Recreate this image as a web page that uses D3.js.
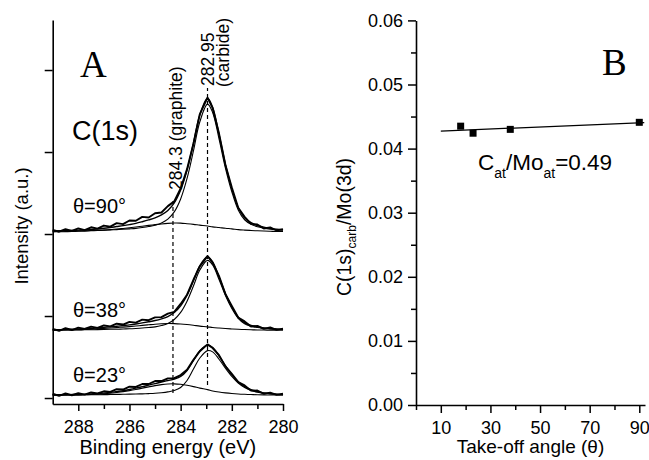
<!DOCTYPE html>
<html>
<head>
<meta charset="utf-8">
<script src="https://cdn.jsdelivr.net/npm/d3@7"></script>
<style>
  html, body { margin: 0; padding: 0; background: #fff; }
  svg { display: block; }
</style>
</head>
<body>
<svg id="chart" width="649" height="460"></svg>
<script>
// ---------- Panel A: C(1s) XPS spectra at three take-off angles ----------
// Binding-energy grid (eV) shared by measured data and fitted components
const energy = [289, 288.75, 288.5, 288.25, 288, 287.75, 287.5, 287.25, 287, 286.75,
  286.5, 286.25, 286, 285.75, 285.5, 285.25, 285, 284.75, 284.5, 284.25,
  284, 283.75, 283.5, 283.25, 282.95, 282.75, 282.5, 282.25, 282, 281.75,
  281.5, 281.25, 281, 280.75, 280.5, 280.25, 280];

const thetaLabels = ["θ=23°", "θ=38°", "θ=90°"];
// vertical stacking offset of each spectrum (a.u.)
const baselineOffset = [3.3, 82.3, 202.4];

// θ = 23°
const raw23 = [1.9, -0.6, 2.3, 0.1, 2.7, 0.9, 3.6, 2.2, 4.9, 4.2, 7.5, 7.0, 10.5, 10.2, 13.8, 13.8, 17.4, 17.4, 20.7, 20.9,
  24.7, 31.2, 43.2, 53.8, 62.1, 57.7, 48.9, 35.3, 26.2, 16.0, 12.0, 5.7, 5.8, 1.9, 3.3, 0.5, 2.0];
const fit23 = [0.6, 0.6, 0.7, 0.9, 1.0, 1.3, 1.7, 2.1, 2.7, 3.5, 4.6, 5.7, 7.1, 8.7, 10.5, 12.4, 14.3, 16.2, 18.0, 19.8,
  22.9, 30.2, 42.6, 54.3, 61.4, 58.3, 48.0, 36.0, 25.2, 16.6, 10.7, 6.9, 4.5, 3.0, 2.1, 1.5, 1.1];
const carbide23 = [0.4, 0.4, 0.4, 0.5, 0.5, 0.6, 0.7, 0.7, 0.8, 0.9, 1.1, 1.2, 1.4, 1.6, 1.8, 2.1, 2.5, 3.2, 4.2, 5.8,
  9.5, 18.0, 32.0, 45.5, 54.5, 53.0, 44.0, 33.0, 23.0, 15.0, 9.5, 6.0, 3.8, 2.5, 1.7, 1.2, 0.9];
const graphite23 = [0.2, 0.2, 0.3, 0.4, 0.5, 0.7, 1.0, 1.4, 1.9, 2.6, 3.5, 4.5, 5.7, 7.1, 8.7, 10.3, 11.8, 13.0, 13.8, 14.0,
  13.4, 12.2, 10.6, 8.8, 6.9, 5.3, 4.0, 3.0, 2.2, 1.6, 1.2, 0.9, 0.7, 0.5, 0.4, 0.3, 0.2];

// θ = 38°
const raw38 = [2.1, -0.3, 2.8, 0.6, 3.6, 1.9, 4.8, 3.2, 6.3, 5.1, 8.3, 7.3, 10.6, 9.7, 13.3, 12.6, 16.1, 16.3, 20.6, 22.8,
  32.4, 43.7, 61.9, 78.2, 90.8, 82.9, 66.3, 44.4, 29.9, 15.8, 11.1, 5.0, 5.7, 2.0, 3.7, 0.8, 2.3];
const fit38 = [0.9, 1.0, 1.3, 1.5, 1.8, 2.2, 2.7, 3.2, 3.9, 4.6, 5.2, 6.1, 6.9, 8.0, 9.3, 10.7, 12.2, 14.3, 17.1, 21.9,
  30.1, 43.1, 60.7, 79.1, 90.0, 83.6, 65.3, 45.2, 28.8, 16.3, 9.4, 6.1, 4.3, 3.3, 2.5, 1.9, 1.5];
const carbide38 = [0.6, 0.6, 0.7, 0.7, 0.8, 0.9, 1.0, 1.1, 1.3, 1.5, 1.6, 1.9, 2.1, 2.5, 3.0, 3.7, 4.5, 6.1, 8.6, 13.5,
  22.1, 35.8, 54.3, 73.7, 85.5, 79.9, 62.3, 42.8, 26.9, 14.8, 8.2, 5.2, 3.6, 2.7, 2.0, 1.5, 1.2];
const graphite38 = [0.3, 0.4, 0.6, 0.8, 1.0, 1.3, 1.7, 2.1, 2.6, 3.1, 3.6, 4.2, 4.8, 5.5, 6.3, 7.0, 7.7, 8.2, 8.5, 8.4,
  8.0, 7.3, 6.4, 5.4, 4.5, 3.7, 3.0, 2.4, 1.9, 1.5, 1.2, 0.9, 0.7, 0.6, 0.5, 0.4, 0.3];

// θ = 90°
const raw90 = [2.6, 0.4, 3.4, 1.5, 4.4, 2.4, 5.8, 4.2, 7.9, 6.6, 10.9, 9.6, 14.1, 13.7, 18.5, 17.8, 23.0, 23.8, 31.6, 37.4,
  53.2, 76.7, 107.6, 143.9, 163.9, 151.1, 120.1, 81.9, 54.2, 29.7, 18.6, 10.0, 9.2, 4.4, 5.7, 1.9, 3.6];
const fit90 = [1.3, 1.5, 1.7, 1.9, 2.3, 2.7, 3.3, 3.8, 4.6, 5.6, 6.7, 7.8, 9.1, 10.6, 12.6, 14.8, 17.3, 21.0, 26.4, 35.6,
  51.3, 75.6, 108.4, 142.9, 163.3, 152.2, 119.2, 82.6, 53.0, 30.0, 17.4, 11.4, 8.0, 6.0, 4.5, 3.5, 2.8];
const carbide90 = [1.1, 1.1, 1.2, 1.3, 1.4, 1.6, 1.8, 2.0, 2.3, 2.7, 3.0, 3.4, 3.9, 4.5, 5.5, 6.7, 8.3, 11.1, 15.8, 24.6,
  40.4, 65.4, 99.0, 134.5, 156.0, 145.9, 113.7, 78.0, 49.1, 27.0, 15.0, 9.5, 6.5, 4.8, 3.6, 2.8, 2.2];
const graphite90 = [0.2, 0.4, 0.5, 0.6, 0.9, 1.1, 1.5, 1.8, 2.3, 2.9, 3.7, 4.4, 5.2, 6.1, 7.1, 8.1, 9.0, 9.9, 10.6, 11.0,
  10.9, 10.2, 9.4, 8.4, 7.3, 6.3, 5.5, 4.6, 3.9, 3.0, 2.4, 1.9, 1.5, 1.2, 0.9, 0.7, 0.6];

const peakGraphite = 284.3;
const peakCarbide = 282.95;
const xTickMajorA = [288, 286, 284, 282, 280];
const xTickMinorA = [287, 285, 283, 281];
const yTicksA = [0, 100, 200, 300, 400];

// ---------- Panel B: carbide C(1s)/Mo(3d) ratio vs take-off angle ----------
const takeoffAngle = [18, 23, 38, 90];
const carbideRatio = [0.0435, 0.0424, 0.0430, 0.0441];
const xTickMajorB = [10, 30, 50, 70, 90];
const xTickMinorB = [0, 20, 40, 60, 80];
const yTickMajorB = [0, 0.01, 0.02, 0.03, 0.04, 0.05, 0.06];
const yTickMinorB = [0.005, 0.015, 0.025, 0.035, 0.045, 0.055];
const fitRange = [10, 92];

// ---------------------------------------------------------------------------
const SANS = '"Liberation Sans", Arial, Helvetica, sans-serif';
const SERIF = '"Liberation Serif", "Times New Roman", Times, serif';
const svg = d3.select("#chart");

function styleAxis(g, fontSize) {
  g.selectAll(".domain").attr("stroke", "#000").attr("stroke-width", 1.6);
  g.selectAll(".tick line").attr("stroke", "#000").attr("stroke-width", 1.5);
  g.selectAll("text").attr("font-family", SANS).attr("font-size", fontSize).attr("fill", "#000");
}

// ===== Panel A =====
const A = { left: 52.7, right: 283, top: 20, bottom: 404 };
const xA = d3.scaleLinear().domain([289, 280]).range([A.left, A.right]);
const yA = d3.scaleLinear().domain([-7.3, 461]).range([A.bottom, A.top]);

const gA = svg.append("g");

const spectra = [
  { label: thetaLabels[0], offset: baselineOffset[0], raw: raw23, fit: fit23, carbide: carbide23, graphite: graphite23, labelY: 382 },
  { label: thetaLabels[1], offset: baselineOffset[1], raw: raw38, fit: fit38, carbide: carbide38, graphite: graphite38, labelY: 317 },
  { label: thetaLabels[2], offset: baselineOffset[2], raw: raw90, fit: fit90, carbide: carbide90, graphite: graphite90, labelY: 213 }
];

// reference lines at the graphite and carbide peak positions
gA.append("line")
  .attr("x1", xA(peakGraphite)).attr("x2", xA(peakGraphite))
  .attr("y1", yA(6)).attr("y2", yA(240))
  .attr("stroke", "#000").attr("stroke-width", 1.2).attr("stroke-dasharray", "4,3");
gA.append("line")
  .attr("x1", xA(peakCarbide)).attr("x2", xA(peakCarbide))
  .attr("y1", yA(16)).attr("y2", yA(378))
  .attr("stroke", "#000").attr("stroke-width", 1.2).attr("stroke-dasharray", "4,3");

spectra.forEach(s => {
  const smooth = d3.line()
    .x((d, i) => xA(energy[i]))
    .y(d => yA(d + s.offset))
    .curve(d3.curveCatmullRom.alpha(0.5));
  const jagged = d3.line()
    .x((d, i) => xA(energy[i]))
    .y(d => yA(d + s.offset));

  gA.append("path").attr("d", smooth(s.graphite))
    .attr("fill", "none").attr("stroke", "#000").attr("stroke-width", 1.1);
  gA.append("path").attr("d", smooth(s.carbide))
    .attr("fill", "none").attr("stroke", "#000").attr("stroke-width", 1.1);
  gA.append("path").attr("d", smooth(s.fit))
    .attr("fill", "none").attr("stroke", "#000").attr("stroke-width", 1.4);
  gA.append("path").attr("d", jagged(s.raw))
    .attr("fill", "none").attr("stroke", "#000").attr("stroke-width", 1.9)
    .attr("stroke-linejoin", "round");

  gA.append("text").text(s.label)
    .attr("x", 73).attr("y", s.labelY)
    .attr("font-family", SANS).attr("font-size", 20);
});

// axes
const axAx = gA.append("g").attr("transform", `translate(0,${A.bottom})`)
  .call(d3.axisBottom(xA).tickValues(xTickMajorA).tickFormat(d3.format("d"))
    .tickSize(7).tickSizeOuter(0).tickPadding(9));
styleAxis(axAx, 18);
const axAxMinor = gA.append("g").attr("transform", `translate(0,${A.bottom})`)
  .call(d3.axisBottom(xA).tickValues(xTickMinorA).tickFormat("").tickSize(5).tickSizeOuter(0));
styleAxis(axAxMinor, 18);
axAxMinor.select(".domain").remove();

const ayA = gA.append("g").attr("transform", `translate(${A.left},0)`)
  .call(d3.axisLeft(yA).tickValues(yTicksA).tickFormat("").tickSize(8).tickSizeOuter(0));
styleAxis(ayA, 18);

// annotations
gA.append("text").text("A").attr("x", 80).attr("y", 77)
  .attr("font-family", SERIF).attr("font-size", 37);
gA.append("text").text("C(1s)").attr("x", 72).attr("y", 140)
  .attr("font-family", SANS).attr("font-size", 27);
gA.append("text").text(`${peakGraphite} (graphite)`)
  .attr("transform", `translate(${xA(peakGraphite) + 9.5},190) rotate(-90)`)
  .attr("font-family", SANS).attr("font-size", 17.5);
gA.append("text").text(`${peakCarbide}`)
  .attr("transform", `translate(${xA(peakCarbide) + 6},86) rotate(-90)`)
  .attr("font-family", SANS).attr("font-size", 17.5);
gA.append("text").text("(carbide)")
  .attr("transform", `translate(${xA(peakCarbide) + 21.5},87) rotate(-90)`)
  .attr("font-family", SANS).attr("font-size", 17.5);

gA.append("text").text("Binding energy (eV)")
  .attr("x", (A.left + A.right) / 2).attr("y", 454).attr("text-anchor", "middle")
  .attr("font-family", SANS).attr("font-size", 20);
gA.append("text").text("Intensity (a.u.)")
  .attr("transform", `translate(28,226) rotate(-90)`).attr("text-anchor", "middle")
  .attr("font-family", SANS).attr("font-size", 18.5);

// ===== Panel B =====
const B = { left: 416, right: 645, top: 20.4, bottom: 405 };
const xB = d3.scaleLinear().domain([0, 92.3]).range([B.left, B.right]);
const yB = d3.scaleLinear().domain([0, 0.06]).range([B.bottom, B.top]);
const gB = svg.append("g");

const axBx = gB.append("g").attr("transform", `translate(0,${B.bottom})`)
  .call(d3.axisBottom(xB).tickValues(xTickMajorB).tickFormat(d3.format("d"))
    .tickSize(8).tickSizeOuter(0).tickPadding(8));
styleAxis(axBx, 18);
const axBxMinor = gB.append("g").attr("transform", `translate(0,${B.bottom})`)
  .call(d3.axisBottom(xB).tickValues(xTickMinorB).tickFormat("").tickSize(5).tickSizeOuter(0));
styleAxis(axBxMinor, 18);
axBxMinor.select(".domain").remove();

const ayB = gB.append("g").attr("transform", `translate(${B.left},0)`)
  .call(d3.axisLeft(yB).tickValues(yTickMajorB).tickFormat(d3.format(".2f"))
    .tickSize(8).tickSizeOuter(0).tickPadding(5));
styleAxis(ayB, 18);
const ayBMinor = gB.append("g").attr("transform", `translate(${B.left},0)`)
  .call(d3.axisLeft(yB).tickValues(yTickMinorB).tickFormat("").tickSize(5).tickSizeOuter(0));
styleAxis(ayBMinor, 18);
ayBMinor.select(".domain").remove();

// least-squares line through the ratios
const mx = d3.mean(takeoffAngle), my = d3.mean(carbideRatio);
const sxy = d3.sum(takeoffAngle, (x, i) => (x - mx) * (carbideRatio[i] - my));
const sxx = d3.sum(takeoffAngle, x => (x - mx) * (x - mx));
const slope = sxy / sxx, intercept = my - slope * mx;
gB.append("path")
  .attr("d", d3.line().x(d => xB(d)).y(d => yB(intercept + slope * d))(fitRange))
  .attr("fill", "none").attr("stroke", "#000").attr("stroke-width", 1.3);

const sq = 7;
gB.selectAll("rect.pt").data(takeoffAngle).join("rect").attr("class", "pt")
  .attr("x", d => xB(d) - sq / 2)
  .attr("y", (d, i) => yB(carbideRatio[i]) - sq / 2)
  .attr("width", sq).attr("height", sq).attr("fill", "#000");

gB.append("text").text("B").attr("x", 602).attr("y", 75)
  .attr("font-family", SERIF).attr("font-size", 37);

const ann = gB.append("text").attr("x", 478).attr("y", 170)
  .attr("font-family", SANS).attr("font-size", 22.5);
ann.append("tspan").text("C");
ann.append("tspan").text("at").attr("font-size", 14).attr("dy", 8);
ann.append("tspan").text("/Mo").attr("dy", -8);
ann.append("tspan").text("at").attr("font-size", 14).attr("dy", 8);
ann.append("tspan").text("=0.49").attr("dy", -8);

gB.append("text").text("Take-off angle (θ)")
  .attr("x", (B.left + B.right) / 2).attr("y", 453).attr("text-anchor", "middle")
  .attr("font-family", SANS).attr("font-size", 19);

const yl = gB.append("text")
  .attr("transform", `translate(351,227) rotate(-90)`).attr("text-anchor", "middle")
  .attr("font-family", SANS).attr("font-size", 19.5);
yl.append("tspan").text("C(1s)");
yl.append("tspan").text("carb").attr("font-size", 12).attr("dy", 5);
yl.append("tspan").text("/Mo(3d)").attr("dy", -5);
</script>
</body>
</html>
